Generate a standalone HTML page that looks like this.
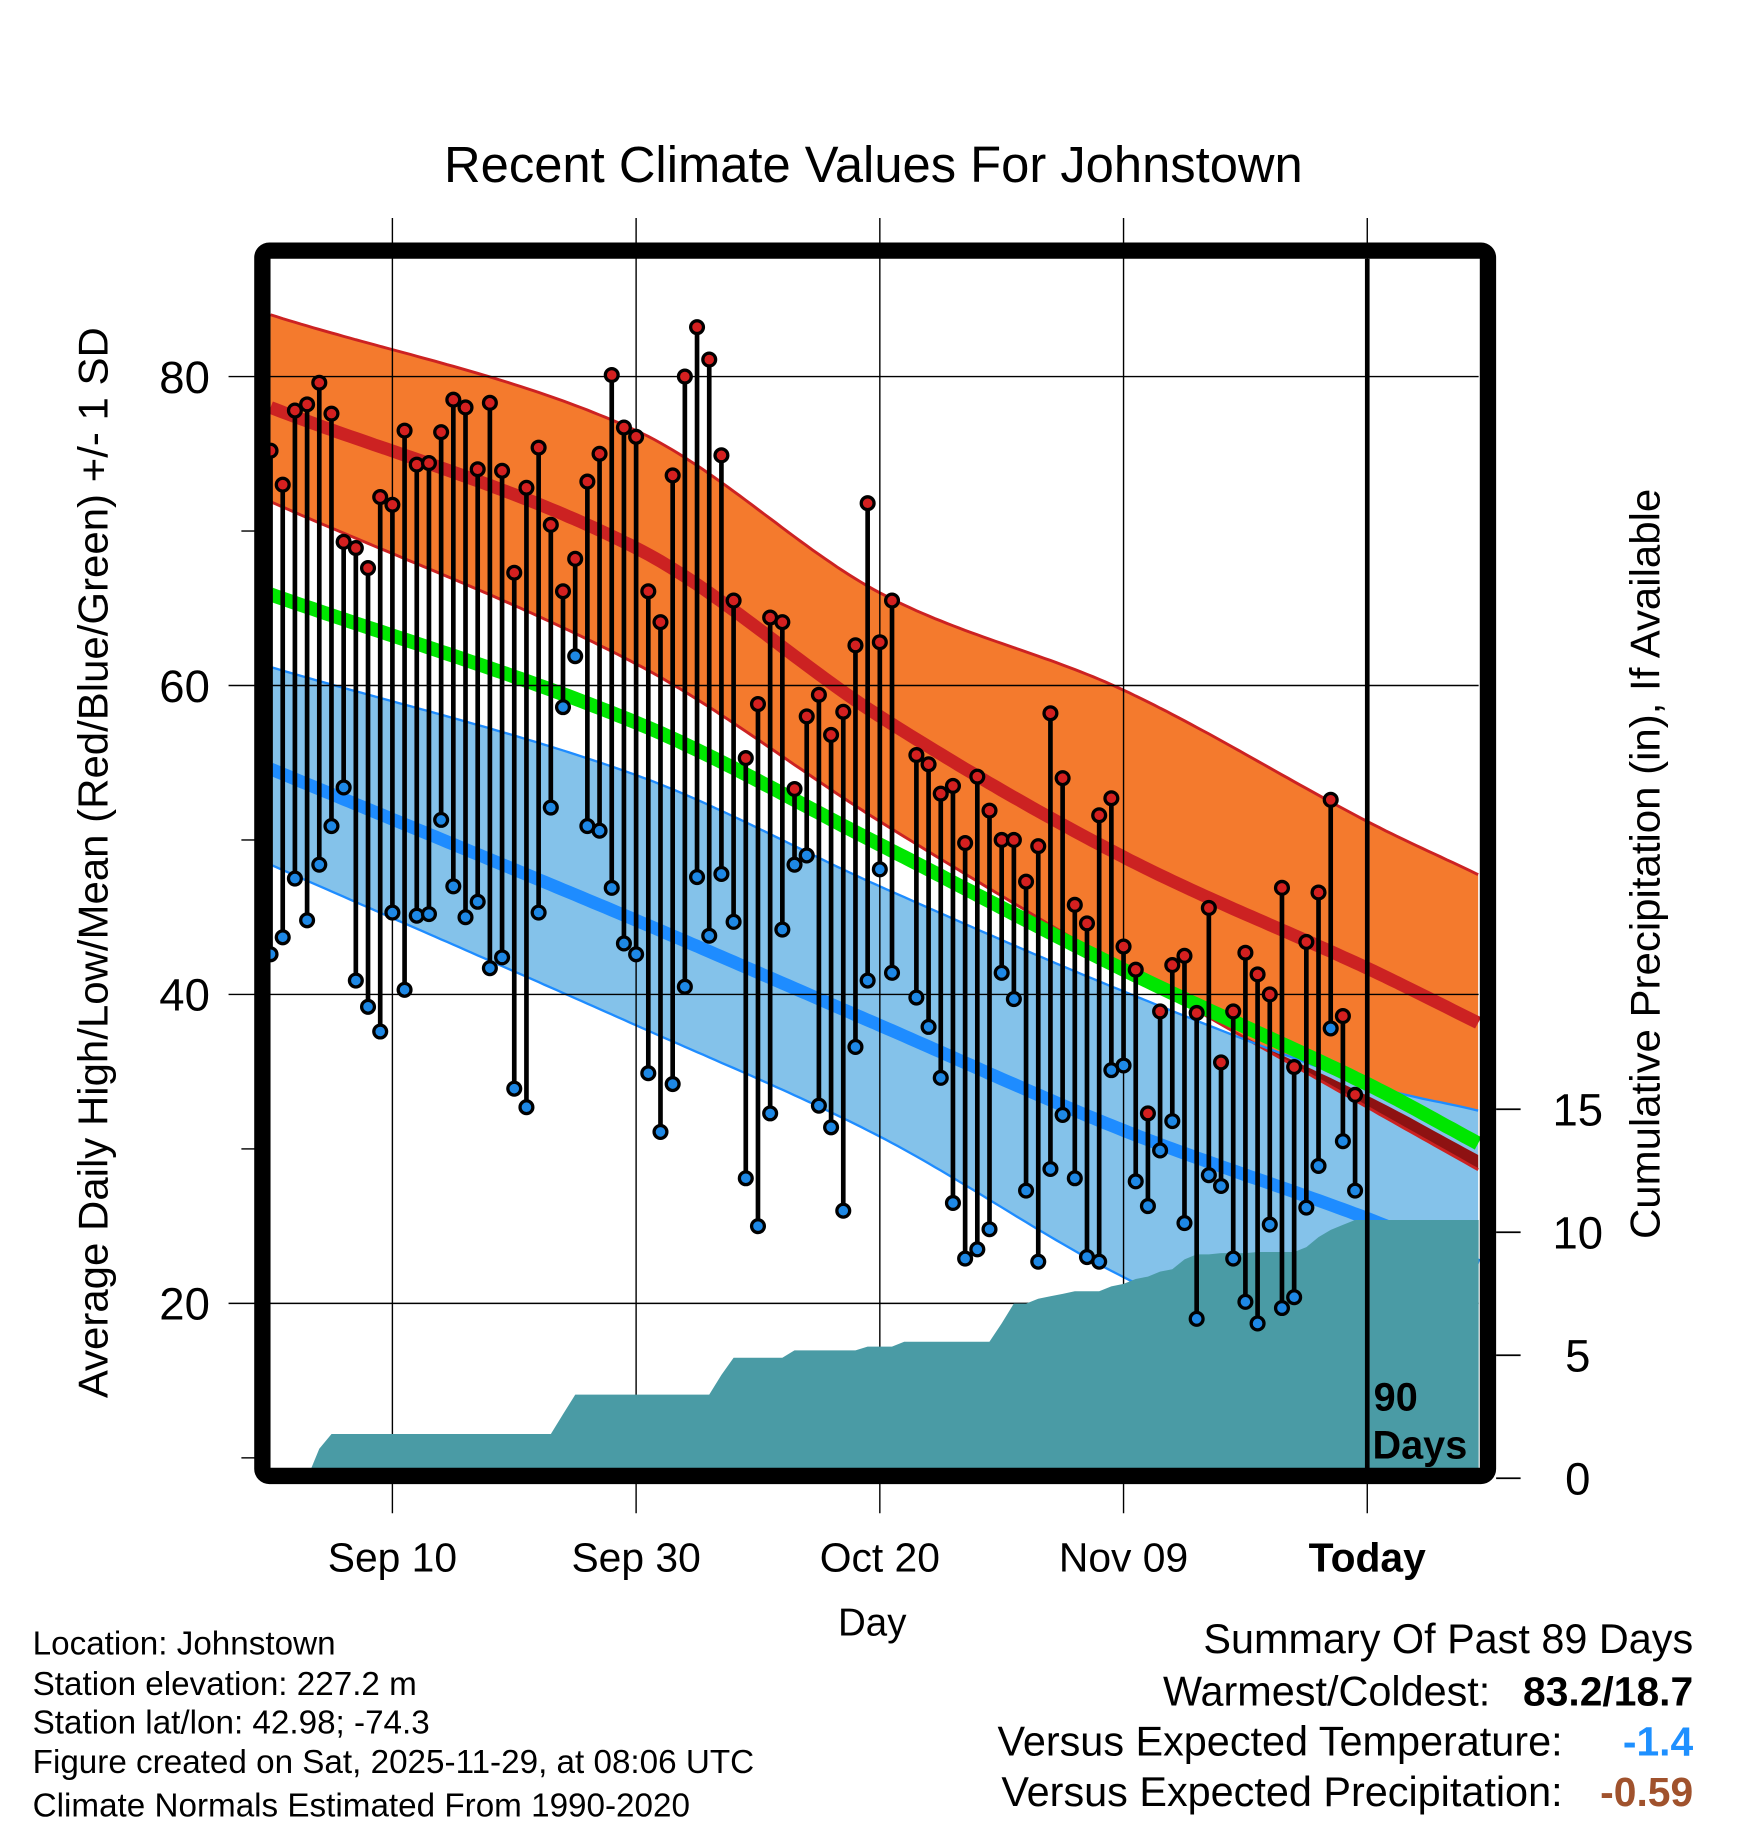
<!DOCTYPE html>
<html><head><meta charset="utf-8"><style>
html,body{margin:0;padding:0;background:#fff}
svg{display:block}
text{font-family:"Liberation Sans",sans-serif}
</style></head><body>
<svg id="chart" width="1748" height="1828" viewBox="0 0 1499 1568" preserveAspectRatio="none" xmlns="http://www.w3.org/2000/svg">
<g id="bands"></g>
<g id="grid"></g>
<g id="precip"></g>
<g id="stems"></g>
<g id="frame"></g>
<g id="labels"></g>
</svg>
<script>
const highs=[75.2,73,77.8,78.2,79.6,77.6,69.3,68.9,67.6,72.2,71.7,76.5,74.3,74.4,76.4,78.5,78,74,78.3,73.9,67.3,72.8,75.4,70.4,66.1,68.2,73.2,75,80.1,76.7,76.1,66.1,64.1,73.6,80,83.2,81.1,74.9,65.5,55.3,58.8,64.4,64.1,53.3,58,59.4,56.8,58.3,62.6,71.8,62.8,65.5,null,55.5,54.9,53,53.5,49.8,54.1,51.9,50,50,47.3,49.6,58.2,54,45.8,44.6,51.6,52.7,43.1,41.6,32.3,38.9,41.9,42.5,38.8,45.6,35.6,38.9,42.7,41.3,40,46.9,35.3,43.4,46.6,52.6,38.6,33.5];
const lows=[42.6,43.7,47.5,44.8,48.4,50.9,53.4,40.9,39.2,37.6,45.3,40.3,45.1,45.2,51.3,47,45,46,41.7,42.4,33.9,32.7,45.3,52.1,58.6,61.9,50.9,50.6,46.9,43.3,42.6,34.9,31.1,34.2,40.5,47.6,43.8,47.8,44.7,28.1,25,32.3,44.2,48.4,49,32.8,31.4,26,36.6,40.9,48.1,41.4,null,39.8,37.9,34.6,26.5,22.9,23.5,24.8,41.4,39.7,27.3,22.7,28.7,32.2,28.1,23,22.7,35.1,35.4,27.9,26.3,29.9,31.8,25.2,19,28.3,27.6,22.9,20.1,18.7,25.1,19.7,20.4,26.2,28.9,37.8,30.5,27.3];
const precip=[0,0,0,0,1.2,1.8,1.8,1.8,1.8,1.8,1.8,1.8,1.8,1.8,1.8,1.8,1.8,1.8,1.8,1.8,1.8,1.8,1.8,1.8,2.6,3.4,3.4,3.4,3.4,3.4,3.4,3.4,3.4,3.4,3.4,3.4,3.4,4.2,4.9,4.9,4.9,4.9,4.9,5.2,5.2,5.2,5.2,5.2,5.2,5.35,5.35,5.35,5.55,5.55,5.55,5.55,5.55,5.55,5.55,5.55,6.3,7.1,7.1,7.3,7.4,7.5,7.6,7.6,7.6,7.8,7.9,8.1,8.2,8.4,8.5,8.9,9.1,9.1,9.15,9.15,9.15,9.2,9.2,9.2,9.2,9.4,9.8,10.1,10.3,10.5];
const normDays=[0,30,50,70,90,99];
const sdHighUp=[84,76.5,66,59.7,51.2,47.8];
const meanHigh=[78,68.9,58,48.9,41.7,38.2];
const sdHighLo=[71.9,61.4,51.2,41.7,32.7,28.7];
const meanAvg=[65.9,57.6,49.7,41.6,34.2,30.4];
const sdLowUp=[61.2,54.2,47,40.2,34.2,32.5];
const meanLow=[54.6,44.8,38,31.2,25.5,22.5];
const sdLowLo=[48.4,38,30.8,21.7,15,12];
const xTickDays=[10,30,50,70,90];
const xTickLabels=["Sep 10","Sep 30","Oct 20","Nov 09","Today"];
const yTicks=[80,60,40,20];
const yMinor=[70,50,30,10];
const pTicks=[15,10,5,0];

const NS="http://www.w3.org/2000/svg";
const X=d=>232+10.45*d;
const Y=v=>323+(80-v)*13.25;
const P=p=>1268-p*21.1;
function mk(parent,tag,attrs){const e=document.createElementNS(NS,tag);for(const k in attrs)e.setAttribute(k,attrs[k]);document.getElementById(parent).appendChild(e);return e;}
function interp(arr,d){
 const n=normDays.length;
 let i=0;while(i<n-2&&d>normDays[i+1])i++;
 const x0=normDays[i],x1=normDays[i+1],h=x1-x0,t=(d-x0)/h;
 const slope=k=>{if(k==0)return (arr[1]-arr[0])/(normDays[1]-normDays[0]);if(k==n-1)return (arr[n-1]-arr[n-2])/(normDays[n-1]-normDays[n-2]);return (arr[k+1]-arr[k-1])/(normDays[k+1]-normDays[k-1]);};
 const m0=slope(i)*h,m1=slope(i+1)*h;
 const t2=t*t,t3=t2*t;
 return (2*t3-3*t2+1)*arr[i]+(t3-2*t2+t)*m0+(-2*t3+3*t2)*arr[i+1]+(t3-t2)*m1;
}
const steps=[];for(let d=0;d<=99.1;d+=0.5)steps.push(d);steps.push(99.1);
function line(arr){return steps.map(d=>X(d).toFixed(1)+","+Y(interp(arr,d)).toFixed(1)).join(" ");}
function band(a,b){return steps.map(d=>X(d).toFixed(1)+","+Y(interp(a,d)).toFixed(1)).join(" ")+" "+steps.slice().reverse().map(d=>X(d).toFixed(1)+","+Y(interp(b,d)).toFixed(1)).join(" ");}
function band2(fa,fb){return steps.map(d=>X(d).toFixed(1)+","+Y(fa(d)).toFixed(1)).join(" ")+" "+steps.slice().reverse().map(d=>X(d).toFixed(1)+","+Y(fb(d)).toFixed(1)).join(" ");}

let e;
e=mk("bands","polygon",{points:band(sdHighUp,sdHighLo),fill:"#f47a2d"});

e=mk("bands","polygon",{points:band(sdLowUp,sdLowLo),fill:"#84c2ea"});

e=mk("bands","polygon",{points:band2(d=>interp(meanAvg,d)-0.75,d=>Math.min(interp(sdHighLo,d),interp(meanAvg,d)-0.75)),fill:"#8e1212"});

[[sdHighUp,"#cc2222",2.5],[sdHighLo,"#cc2222",2.5],[sdLowUp,"#1e8cff",2],[sdLowLo,"#1e8cff",2],[meanAvg,"#00e600",12],[meanHigh,"#cc2222",11],[meanLow,"#1e8cff",11]].forEach((s,i)=>{
 e=mk("bands","polyline",{points:line(s[0]),fill:"none",stroke:s[1],"stroke-width":s[2]});
 
 
});
xTickDays.forEach((d,i)=>{
 e=mk("grid","line",{x1:X(d),x2:X(d),y1:187,y2:1298,stroke:"#000","stroke-width":1.2});
 
 e=mk("labels","text",{x:X(d),y:1348,"font-size":35,"text-anchor":"middle","font-weight":i==4?"bold":"normal"});
 e.textContent=xTickLabels[i];
 
});
yTicks.forEach(v=>{
 e=mk("grid","line",{x1:196,x2:1268,y1:Y(v),y2:Y(v),stroke:"#000","stroke-width":1.2});
 
 e=mk("labels","text",{x:180,y:Y(v)+14,"font-size":39,"text-anchor":"end"});
 e.textContent=v;
 
});
yMinor.forEach(v=>{
 e=mk("grid","line",{x1:207,x2:220,y1:Y(v),y2:Y(v),stroke:"#000","stroke-width":1.2});
 
});
pTicks.forEach(p=>{
 e=mk("labels","text",{x:1353,y:P(p)+14,"font-size":39,"text-anchor":"middle"});
 e.textContent=p;
 
});
let pp=X(0)+","+P(0)+" ";
precip.forEach((p,i)=>{pp+=X(i).toFixed(1)+","+P(p).toFixed(1)+" ";});
pp+="1268,"+P(precip[precip.length-1])+" 1268,"+P(0);
e=mk("precip","polygon",{points:pp,fill:"#4a9ba5"});

e=mk("precip","line",{x1:X(90),x2:X(90),y1:222,y2:1262,stroke:"#000","stroke-width":4});

e=mk("precip","text",{x:1178,y:1210,"font-size":34,"font-weight":"bold"});e.textContent="90";

e=mk("precip","text",{x:1177,y:1251,"font-size":34,"font-weight":"bold"});e.textContent="Days";

highs.forEach((h,i)=>{
 const l=lows[i];if(h==null||l==null)return;
 e=mk("stems","line",{x1:X(i),x2:X(i),y1:Y(h),y2:Y(l),stroke:"#000","stroke-width":4});
 
 e=mk("stems","circle",{cx:X(i),cy:Y(h),r:5.5,fill:"#d42020",stroke:"#000","stroke-width":2.8});
 
 e=mk("stems","circle",{cx:X(i),cy:Y(l),r:5.5,fill:"#1e88e5",stroke:"#000","stroke-width":2.8});
 
});
e=mk("frame","rect",{x:1283,y:200,width:30,height:1100,fill:"#fff"});

e=mk("frame","rect",{x:225,y:215,width:1051,height:1051,rx:6,fill:"none",stroke:"#000","stroke-width":14});

pTicks.forEach(p=>{e=mk("frame","line",{x1:1283,x2:1304,y1:P(p),y2:P(p),stroke:"#000","stroke-width":1.5});
 });
function txt(s,attrs,name){const t=mk("labels","text",attrs);t.textContent=s;return t;}
txt("Recent Climate Values For Johnstown",{x:749,y:156,"font-size":43.5,"text-anchor":"middle"},"chart-title");
txt("Average Daily High/Low/Mean (Red/Blue/Green) +/- 1 SD",{x:92,y:740,"font-size":36,"text-anchor":"middle",transform:"rotate(-90 92 740)"},"y-axis-title");
txt("Cumulative Precipitation (in), If Available",{x:1423,y:741,"font-size":36,"text-anchor":"middle",transform:"rotate(-90 1423 741)"},"precip-axis-title");
txt("Day",{x:748,y:1403,"font-size":33,"text-anchor":"middle"},"x-axis-title");
const info=["Location: Johnstown","Station elevation: 227.2 m","Station lat/lon: 42.98; -74.3","Figure created on Sat, 2025-11-29, at 08:06 UTC","Climate Normals Estimated From 1990-2020"];
[1419,1454,1487,1521,1558].forEach((y,i)=>txt(info[i],{x:28,y:y,"font-size":28.5},"station-info-line"));
txt("Summary Of Past 89 Days",{x:1452,y:1418,"font-size":35.5,"text-anchor":"end"},"summary-title");
txt("Warmest/Coldest:",{x:1278,y:1463,"font-size":35.5,"text-anchor":"end"},"warmest-coldest-label");
txt("83.2/18.7",{x:1452,y:1463,"font-size":35,"text-anchor":"end","font-weight":"bold"},"warmest-coldest-value");
txt("Versus Expected Temperature:",{x:1340,y:1506,"font-size":35.5,"text-anchor":"end"},"temp-departure-label");
txt("-1.4",{x:1452,y:1506,"font-size":35,"text-anchor":"end","font-weight":"bold",fill:"#1e90ff"},"temp-departure-value");
txt("Versus Expected Precipitation:",{x:1340,y:1549,"font-size":35.5,"text-anchor":"end"},"precip-departure-label");
txt("-0.59",{x:1452,y:1549,"font-size":35,"text-anchor":"end","font-weight":"bold",fill:"#a0522d"},"precip-departure-value");
</script>
</body></html>
